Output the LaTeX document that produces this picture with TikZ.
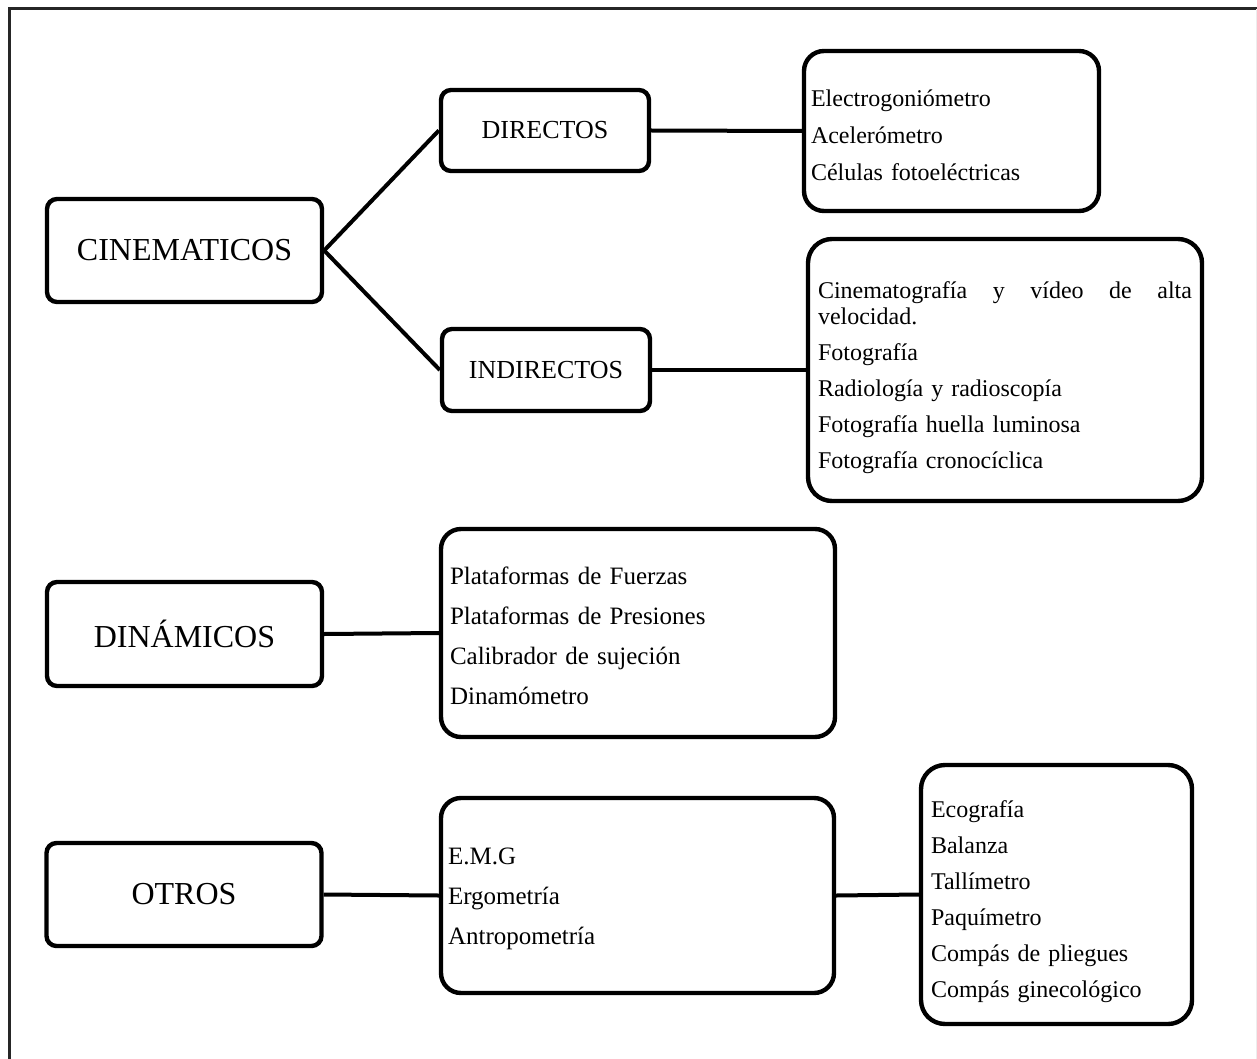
\documentclass[tikz,border=0pt]{standalone}
\usepackage{fontspec}
\setmainfont{Liberation Serif}

\begin{document}
\begin{tikzpicture}[x=0.5pt, y=-0.5pt,
		mainbox/.style={draw, line width=2.2pt, rounded corners=5pt, minimum width=137.5pt, minimum height=51.5pt, font=\fontsize{16}{19}\selectfont},
		subbox/.style={draw, line width=2.2pt, rounded corners=5pt, minimum width=104pt, minimum height=40.5pt, font=\fontsize{13}{16}\selectfont},
		listbox/.style={draw, line width=2.2pt, rounded corners=10pt, align=left, font=\fontsize{12}{13}\selectfont},
		link/.style={line width=2pt}]
		\useasboundingbox (0,0) rectangle (1257,1059);
		
		% Outer frame (open at the bottom)
		\draw[line width=1.5pt, black!85] (9.5,1059) -- (9.5,9) -- (1257,9);
		\draw[line width=0.5pt, black!7] (1256,9) -- (1256,1059);
		
		% Left column
		\node[mainbox] (cinem) at (184.5,250.5) {CINEMATICOS};
		\node[mainbox, minimum height=52pt] (dinam) at (184.5,634) {DINÁMICOS};
		\node[mainbox] (otros) at (184,894.5) {OTROS};
		
		% Kinematic branch
		\node[subbox] (directos) at (545,130.5) {DIRECTOS};
		\node[subbox, minimum height=41pt] (indirectos) at (546,370) {INDIRECTOS};
		
		\node[listbox, minimum width=147.5pt, minimum height=80pt, inner xsep=3.5pt, text width=140.5pt] (dirlist) at (951.5,131) {%
			\rule{0pt}{13pt}Electrogoniómetro\\[5.5pt]
			Acelerómetro\\[5.5pt]
			Células fotoeléctricas};
		\node[listbox, rounded corners=12pt, minimum width=197pt, minimum height=131pt, inner xsep=5pt, text width=187pt] (indlist) at (1005,370) {%
			\rule{0pt}{16pt}Cinematografía\hfill y\hfill vídeo\hfill de\hfill alta\\
			velocidad.\\[5pt]
			Fotografía\\[5pt]
			Radiología y radioscopía\\[5pt]
			Fotografía huella luminosa\\[5pt]
			Fotografía cronocíclica};
		
		% Dynamic branch
		\node[listbox, font=\fontsize{12.5}{13}\selectfont, minimum width=197pt, minimum height=104pt, inner xsep=4.5pt, text width=188pt] (dinlist) at (638,633) {%
			\rule{0pt}{12pt}Plataformas de Fuerzas\\[7pt]
			Plataformas de Presiones\\[7pt]
			Calibrador de sujeción\\[7pt]
			Dinamómetro};
		
		% Other instruments
		\node[listbox, font=\fontsize{12.5}{13}\selectfont, minimum width=196.5pt, minimum height=97.5pt, inner xsep=3.5pt, text width=189.5pt] (otrlist) at (637.5,895.5) {%
			\rule{0pt}{12pt}E.M.G\\[7pt]
			Ergometría\\[7pt]
			Antropometría};
		\node[listbox, rounded corners=12pt, minimum width=135.5pt, minimum height=129.5pt, inner xsep=5pt, text width=125.5pt] (antlist) at (1056.5,894.5) {%
			\rule{0pt}{16pt}Ecografía\\[5pt]
			Balanza\\[5pt]
			Tallímetro\\[5pt]
			Paquímetro\\[5pt]
			Compás de pliegues\\[5pt]
			Compás ginecológico};
		
		% Connectors
		\draw[link] (cinem.east) -- (directos.west);
		\draw[link] (cinem.east) -- (indirectos.west);
		\draw[link] (directos.east) -- (dirlist.west);
		\draw[link] (indirectos.east) -- (indlist.west);
		\draw[link] (dinam.east) -- (dinlist.west);
		\draw[link] (otros.east) -- (otrlist.west);
		\draw[link] (otrlist.east) -- (antlist.west);
		
	\end{tikzpicture}
\end{document}
